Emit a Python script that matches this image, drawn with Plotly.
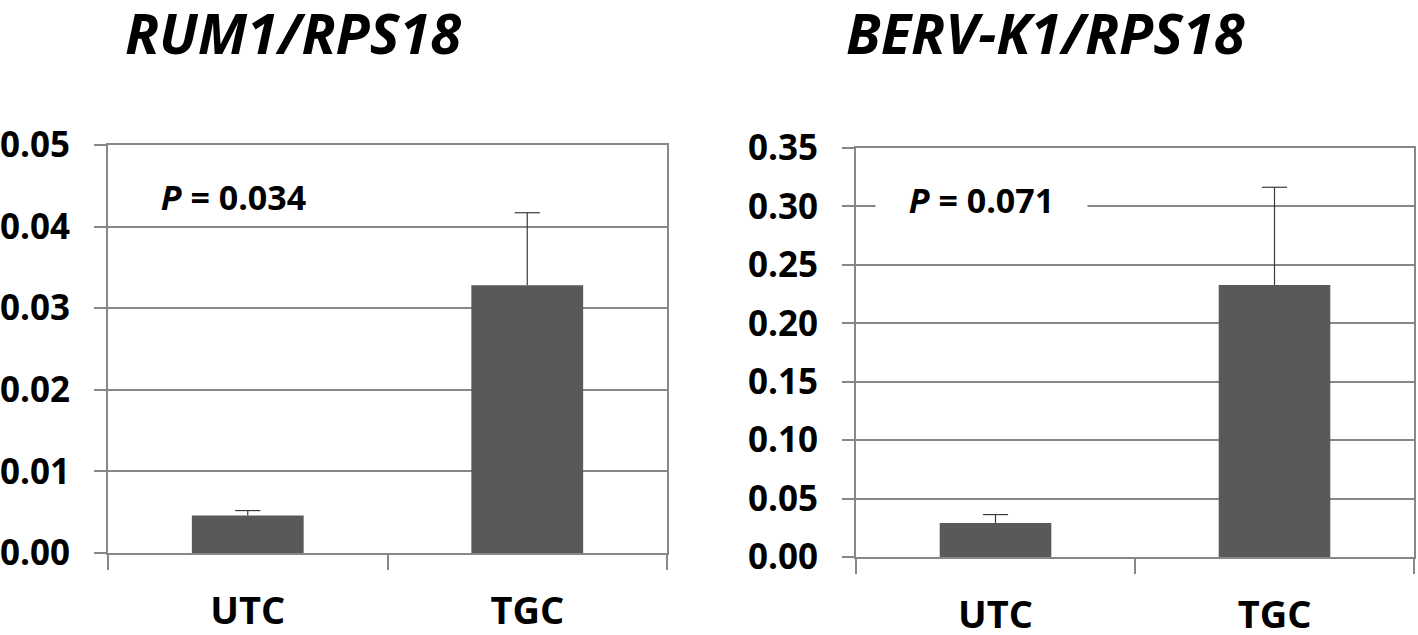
import plotly.graph_objects as go

categories = ["UTC", "TGC"]

rum1_values = [0.0046, 0.0328]
rum1_errors = [0.0006, 0.0089]

berv_values = [0.029, 0.2328]
berv_errors = [0.0073, 0.0836]

rum1_ticks = [0.00, 0.01, 0.02, 0.03, 0.04, 0.05]
berv_ticks = [0.00, 0.05, 0.10, 0.15, 0.20, 0.25, 0.30, 0.35]

titles = ["<i>RUM1/RPS18</i>", "<i>BERV-K1/RPS18</i>"]
p_texts = ["<i>P</i> = 0.034", "<i>P</i> = 0.071"]

FONT = "Open Sans"
GRID = "#878787"
BAR = "#595959"
ERR = "#3a3a3a"

fig = go.Figure()

for i, (vals, errs) in enumerate([(rum1_values, rum1_errors), (berv_values, berv_errors)]):
    xa = "x" if i == 0 else "x2"
    ya = "y" if i == 0 else "y2"
    fig.add_trace(go.Bar(
        x=categories, y=vals,
        marker=dict(color=BAR, line=dict(width=0)),
        xaxis=xa, yaxis=ya, showlegend=False, hoverinfo="skip",
    ))
    # upward-only error bars: stem from bar top to value + error, cap at the end
    ex, ey = [], []
    for c, v, e in zip(categories, vals, errs):
        ex += [c, c, None]
        ey += [v, v + e, None]
    fig.add_trace(go.Scatter(
        x=ex, y=ey, mode="lines", line=dict(color=ERR, width=1.2),
        xaxis=xa, yaxis=ya, showlegend=False, hoverinfo="skip",
    ))
    fig.add_trace(go.Scatter(
        x=categories, y=[v + e for v, e in zip(vals, errs)], mode="markers",
        marker=dict(symbol="line-ew-open", size=18, color=ERR,
                    line=dict(color=ERR, width=1.2)),
        xaxis=xa, yaxis=ya, showlegend=False, hoverinfo="skip",
    ))

common_x = dict(
    type="category", showline=True, linecolor=GRID, linewidth=2,
    ticks="outside", tickson="boundaries", ticklen=15, tickcolor=GRID, tickwidth=2,
    showgrid=False, zeroline=False, mirror=True,
    tickfont=dict(family=FONT, size=38, color="black", weight="bold"),
    ticklabelstandoff=23, automargin=False,
)
common_y = dict(
    showline=True, linecolor=GRID, linewidth=2, mirror=True,
    ticks="outside", ticklen=12, tickcolor=GRID, tickwidth=2,
    showgrid=True, gridcolor=GRID, gridwidth=2, zeroline=False,
    tickfont=dict(family=FONT, size=35, color="black", weight="bold"),
    ticklabelstandoff=17, automargin=False,
)

fig.update_layout(
    width=1418, height=635,
    margin=dict(l=0, r=0, t=0, b=0),
    paper_bgcolor="white", plot_bgcolor="white",
    bargap=0.6,
    xaxis=dict(domain=[108 / 1418, 667 / 1418], anchor="y", **common_x),
    xaxis2=dict(domain=[856 / 1418, 1414 / 1418], anchor="y2", **common_x),
    yaxis=dict(domain=[1 - 553 / 635, 1 - 145 / 635], anchor="x", range=[0, 0.05],
               tickvals=rum1_ticks, ticktext=[f"{v:.2f}" for v in rum1_ticks], **common_y),
    yaxis2=dict(domain=[1 - 557 / 635, 1 - 148 / 635], anchor="x2", range=[0, 0.35],
                tickvals=berv_ticks, ticktext=[f"{v:.2f}" for v in berv_ticks], **common_y),
)

title_x = [293 / 1418, 1045 / 1418]
for i in range(2):
    fig.add_annotation(
        text=titles[i], x=title_x[i], y=1 - 32 / 635, xref="paper", yref="paper",
        xanchor="center", yanchor="middle", showarrow=False,
        font=dict(family=FONT, size=56, color="black", weight="bold"),
    )
    fig.add_annotation(
        text=p_texts[i], x=0.225, y=0.872,
        xref="x domain" if i == 0 else "x2 domain",
        yref="y domain" if i == 0 else "y2 domain",
        xanchor="center", yanchor="middle", showarrow=False,
        width=205, borderpad=3, bgcolor="white",
        font=dict(family=FONT, size=34, color="black", weight="bold"),
    )

fig.write_html(
    "out.html",
    config={"displayModeBar": False},
    post_script="document.body.style.margin='0';document.body.style.overflow='hidden';",
)
